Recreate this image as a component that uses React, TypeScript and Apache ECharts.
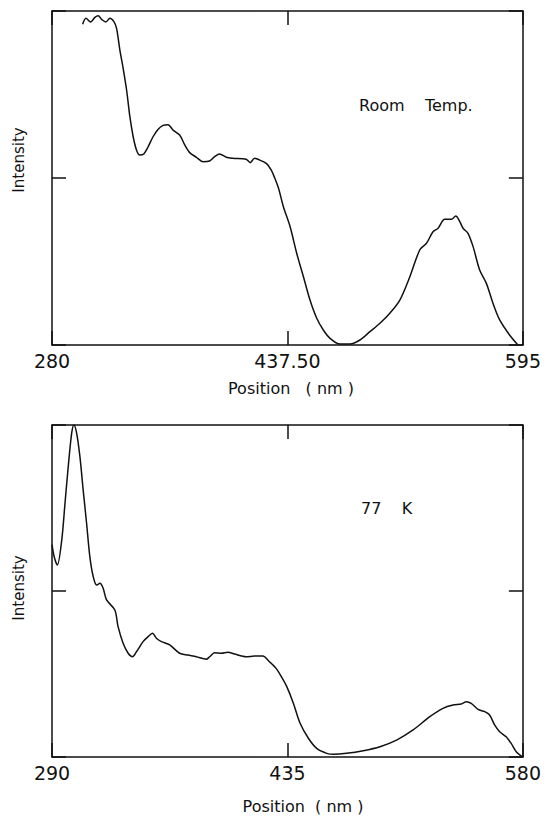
import React, { useEffect, useRef } from "react";
import * as echarts from "echarts";

// Room temperature spectrum (Position nm, Intensity a.u.)
const roomTempX = [300.5, 302.7, 305.8, 308.7, 310.9, 313.2, 316.0, 318.7, 321.4, 323.2, 325.4, 327.6, 329.9, 332.1, 334.3, 336.5, 338.7, 341.4, 344.3, 347.6, 350.9, 354.3, 357.6, 361.0, 365.4, 368.8, 372.1, 376.6, 381.0, 385.4, 388.8, 392.1, 396.6, 401.0, 409.9, 412.6, 415.5, 417.7, 423.3, 426.6, 429.0, 431.5, 434.8, 439.3, 443.7, 448.2, 452.6, 457.1, 461.5, 466.0, 472.7, 479.4, 486.0, 492.7, 499.4, 506.0, 512.7, 519.4, 526.0, 530.5, 534.9, 538.3, 542.7, 547.2, 550.1, 552.8, 555.0, 558.3, 561.7, 566.1, 570.6, 575.0, 579.5, 586.1, 591.7];
const roomTempY = [1.920, 1.956, 1.934, 1.962, 1.972, 1.950, 1.934, 1.956, 1.936, 1.896, 1.766, 1.657, 1.527, 1.367, 1.247, 1.168, 1.138, 1.144, 1.187, 1.247, 1.291, 1.315, 1.319, 1.287, 1.257, 1.198, 1.152, 1.124, 1.098, 1.102, 1.128, 1.144, 1.124, 1.118, 1.112, 1.092, 1.118, 1.112, 1.088, 1.048, 1.000, 0.940, 0.828, 0.708, 0.549, 0.409, 0.269, 0.160, 0.090, 0.040, 0.006, 0.006, 0.030, 0.080, 0.130, 0.190, 0.269, 0.409, 0.569, 0.609, 0.678, 0.699, 0.753, 0.753, 0.772, 0.739, 0.699, 0.669, 0.589, 0.449, 0.369, 0.250, 0.150, 0.060, 0.000];

// 77 K spectrum
const lowTempX = [290.0, 291.5, 293.3, 296.0, 298.0, 300.0, 302.1, 303.5, 305.2, 307.2, 309.2, 311.3, 313.3, 315.4, 317.5, 319.5, 321.5, 323.6, 328.7, 330.7, 333.8, 336.9, 339.6, 342.0, 346.1, 349.2, 351.9, 354.3, 357.4, 362.5, 368.6, 373.7, 378.9, 385.0, 387.1, 390.1, 394.3, 398.3, 402.4, 409.6, 414.7, 419.8, 423.9, 428.0, 431.5, 434.6, 438.7, 442.8, 447.9, 453.0, 459.2, 463.3, 471.4, 481.7, 492.0, 502.2, 512.4, 522.7, 530.8, 537.0, 542.1, 545.2, 548.2, 552.4, 556.5, 559.5, 562.6, 565.7, 569.7, 572.8, 575.9, 579.5];
const lowTempY = [1.280, 1.200, 1.157, 1.307, 1.528, 1.749, 1.950, 2.000, 1.950, 1.809, 1.608, 1.408, 1.207, 1.086, 1.036, 1.046, 1.016, 0.946, 0.886, 0.785, 0.685, 0.625, 0.604, 0.634, 0.695, 0.725, 0.745, 0.715, 0.695, 0.675, 0.625, 0.614, 0.604, 0.589, 0.604, 0.628, 0.625, 0.631, 0.620, 0.604, 0.608, 0.608, 0.574, 0.534, 0.480, 0.424, 0.323, 0.203, 0.113, 0.052, 0.022, 0.016, 0.022, 0.038, 0.062, 0.102, 0.163, 0.243, 0.293, 0.313, 0.319, 0.333, 0.323, 0.287, 0.273, 0.253, 0.193, 0.152, 0.122, 0.082, 0.032, 0.002];

const topTicks = [280, 437.5, 595];
const topTickLabels = ["280", "437.50", "595"];
const bottomTicks = [290, 435, 580];
const bottomTickLabels = ["290", "435", "580"];
const xTitle = "Position   ( nm )";
const xTitleBottom = "Position  ( nm )";
const yTitle = "Intensity";
const topNote = "Room    Temp.";
const bottomNote = "77    K";

const INK = "#111";
const FONT = "DejaVu Sans";

export default function App() {
  const ref = useRef<HTMLDivElement>(null);
  useEffect(() => {
    if (!ref.current) return;
    const chart = echarts.init(ref.current, undefined, { renderer: "svg" });
    const lineStyle = { color: INK, width: 1.5 };

    const makeX = (gridIndex: number, ticks: number[], labels: string[]) => {
      const interval = ticks[1] - ticks[0];
      const base: any = {
        type: "value",
        gridIndex,
        min: 0,
        max: ticks[ticks.length - 1] - ticks[0],
        interval,
        splitLine: { show: false },
        axisLine: { show: true, onZero: false, lineStyle },
        axisTick: { show: true, inside: true, length: 14, lineStyle },
      };
      return [
        {
          ...base,
          position: "bottom",
          axisLabel: {
            show: true,
            margin: 6,
            fontSize: 19,
            fontFamily: FONT,
            color: INK,
            showMinLabel: true,
            showMaxLabel: true,
            formatter: (v: number) => labels[Math.round(v / interval)] ?? "",
          },
        },
        { ...base, position: "top", axisLabel: { show: false } },
      ];
    };
    const makeY = (gridIndex: number) => {
      const base: any = {
        type: "value",
        gridIndex,
        min: 0,
        max: 2,
        interval: 1,
        splitLine: { show: false },
        axisLabel: { show: false },
        axisLine: { show: true, onZero: false, lineStyle },
        axisTick: { show: true, inside: true, length: 14, lineStyle },
      };
      return [
        { ...base, position: "left" },
        { ...base, position: "right" },
      ];
    };

    const toData = (xs: number[], ys: number[], x0: number) =>
      xs.map((x, i) => [x - x0, ys[i]]);

    const txt = (text: string, x: number, y: number, size: number, align = "center", rotation = 0) => ({
      type: "text",
      x,
      y,
      rotation,
      style: {
        text,
        fill: INK,
        font: `${size}px "${FONT}"`,
        textAlign: align,
        textVerticalAlign: "middle",
      },
    });

    chart.setOption({
      animation: false,
      backgroundColor: "#fff",
      grid: [
        { left: 52, top: 11, width: 472, height: 334 },
        { left: 52, top: 425, width: 473, height: 332 },
      ],
      xAxis: [...makeX(0, topTicks, topTickLabels), ...makeX(1, bottomTicks, bottomTickLabels)],
      yAxis: [...makeY(0), ...makeY(1)],
      series: [
        {
          name: "Room Temp.",
          type: "line",
          xAxisIndex: 0,
          yAxisIndex: 0,
          data: toData(roomTempX, roomTempY, topTicks[0]),
          showSymbol: false,
          smooth: 0.3,
          lineStyle: { color: INK, width: 1.5 },
        },
        {
          name: "77 K",
          type: "line",
          xAxisIndex: 2,
          yAxisIndex: 2,
          data: toData(lowTempX, lowTempY, bottomTicks[0]),
          showSymbol: false,
          smooth: 0.3,
          lineStyle: { color: INK, width: 1.5 },
        },
      ],
      graphic: [
        txt(xTitle, 291, 388, 16),
        txt(xTitleBottom, 303, 806, 16),
        txt(yTitle, 19, 160, 15, "center", Math.PI / 2),
        txt(yTitle, 19, 588, 15, "center", Math.PI / 2),
        txt(topNote, 359, 105, 16, "left"),
        txt(bottomNote, 361, 508, 16, "left"),
      ],
    });
    return () => chart.dispose();
  }, []);
  return (
    <div
      ref={ref}
      style={{ position: "absolute", left: 0, top: 0, width: 544, height: 816, background: "#fff" }}
    />
  );
}
